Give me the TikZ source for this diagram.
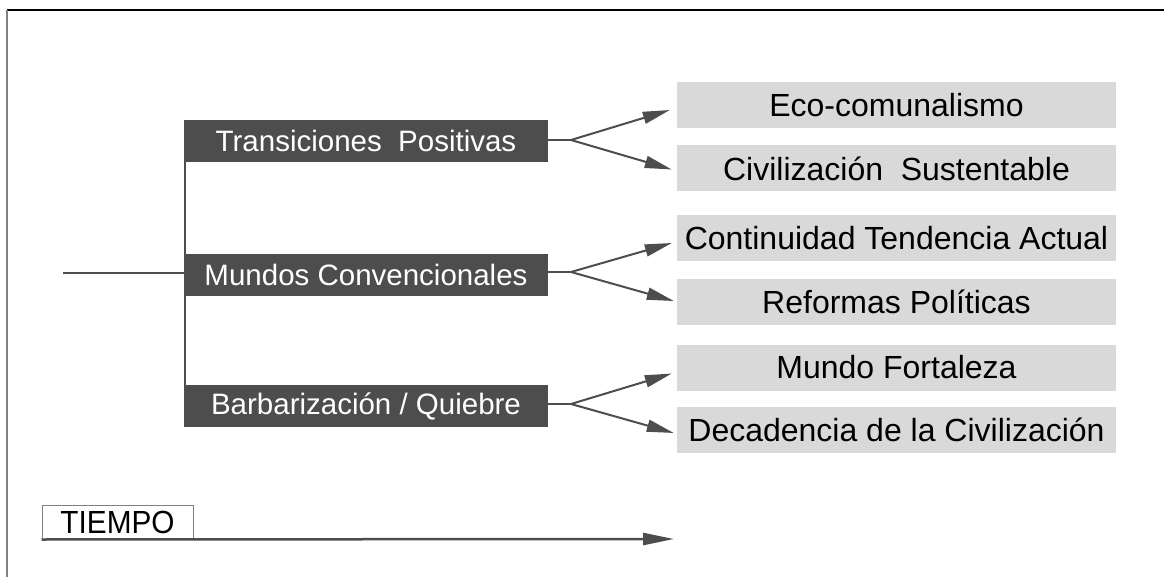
\documentclass[tikz,border=0pt]{standalone}
\usepackage{fontspec}
\setmainfont{Liberation Sans}
\usetikzlibrary{arrows.meta,calc}
\definecolor{dk}{HTML}{4D4D4D}
\definecolor{lt}{HTML}{D9D9D9}
\tikzset{
  darkbox/.style={fill=dk, text=white, minimum width=364pt, minimum height=42pt, inner sep=0pt,
    font=\fontsize{29.5}{29.5}\selectfont},
  lightbox/.style={fill=lt, text=black, minimum width=439pt, minimum height=46pt, inner sep=0pt,
    font=\fontsize{32}{32}\selectfont},
  conn/.style={draw=dk, line width=2pt},
  arr/.style={draw=dk, line width=2pt, -{Triangle[length=27pt,width=12pt]}},
}
\begin{document}
\begin{tikzpicture}[x=1pt,y=-1pt]
\useasboundingbox (0,0) rectangle (1164,577);
% frame
\draw[black, line width=1.5pt] (7,10) -- (1164,10);
\draw[gray, line width=1.5pt] (7,10) -- (7,577);

% dark boxes
\node[darkbox] (T) at (366,141) {Transiciones\ \ Positivas};
\node[darkbox] (M) at (366,275) {Mundos Convencionales};
\node[darkbox] (B) at (366,406) {Barbarización / Quiebre};

% light boxes
\node[lightbox] (E1) at (896.5,105) {Eco-comunalismo};
\node[lightbox] (E2) at (896.5,168.5) {Civilización\ \ Sustentable};
\node[lightbox] (C1) at (896.5,238) {Continuidad Tendencia Actual};
\node[lightbox] (C2) at (896.5,302) {Reformas Políticas};
\node[lightbox] (D1) at (896.5,367.5) {Mundo Fortaleza};
\node[lightbox] (D2) at (896.5,430) {Decadencia de la Civilización};

% trunk
\coordinate (start) at (63,273);
\draw[conn] ([xshift=1pt]T.south west) -- ([xshift=1pt]B.north west);
\draw[conn] (start) -- (start -| M.west);

% branches
\coordinate (tb) at (571,140);
\coordinate (mb) at (571,272);
\coordinate (bb) at (571,404);
\draw[conn] (T.east |- tb) -- (tb);
\draw[conn] (M.east |- mb) -- (mb);
\draw[conn] (B.east |- bb) -- (bb);
\draw[arr] (tb) -- ([shift={(-7,5)}]E1.west);
\draw[arr] (tb) -- ([shift={(-5,1)}]E2.west);
\draw[arr] (mb) -- ([shift={(-5,5)}]C1.west);
\draw[arr] (mb) -- ([shift={(-3,-1)}]C2.west);
\draw[arr] (bb) -- ([shift={(-5,6)}]D1.west);
\draw[arr] (bb) -- ([shift={(-3,3)}]D2.west);

% time axis
\node[draw=gray, line width=1pt, fill=white, minimum width=151pt, minimum height=34pt, inner sep=0pt,
  font=\fontsize{32}{32}\selectfont] (tiempo) at (117.5,522) {\scalebox{0.93}[1]{TIEMPO}};
\coordinate (tend) at (674,539);
\draw[draw=dk, line width=2.5pt, -{Triangle[length=31pt,width=12pt]}] (tiempo.south west) -- (tend);
\end{tikzpicture}
\end{document}
